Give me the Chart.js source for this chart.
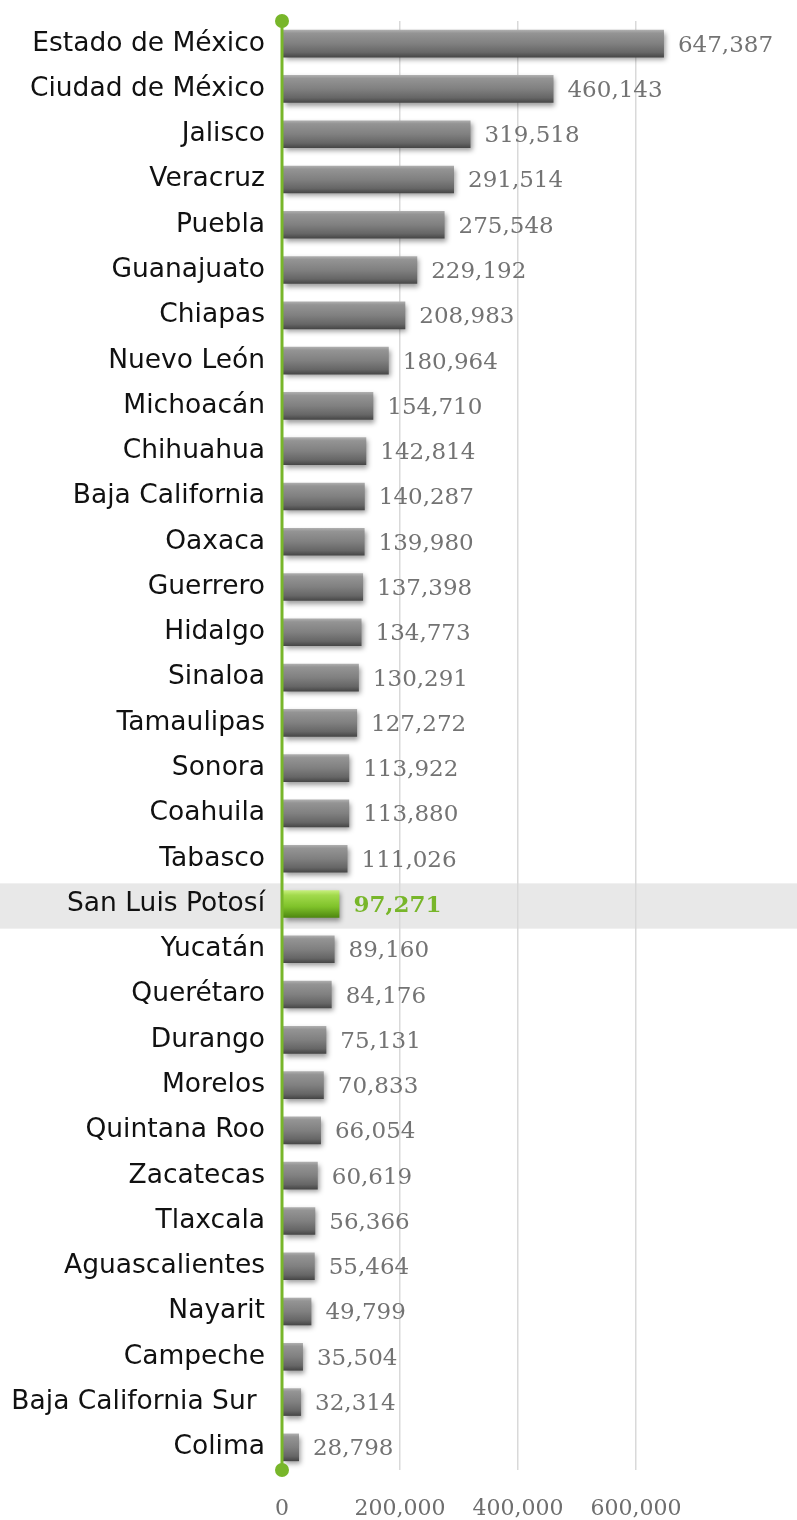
<!DOCTYPE html>
<html>
<head>
<meta charset="utf-8">
<script src="https://cdn.jsdelivr.net/npm/chart.js@4/dist/chart.umd.min.js"></script>
<style>
  html, body { margin: 0; padding: 0; background: #fff; }
  #wrap { width: 797px; height: 1520px; position: relative; }
</style>
</head>
<body>
<div id="wrap"><canvas id="statesChart"></canvas></div>
<script>
// Data
const states = [
  'Estado de México', 'Ciudad de México', 'Jalisco', 'Veracruz', 'Puebla',
  'Guanajuato', 'Chiapas', 'Nuevo León', 'Michoacán', 'Chihuahua',
  'Baja California', 'Oaxaca', 'Guerrero', 'Hidalgo', 'Sinaloa',
  'Tamaulipas', 'Sonora', 'Coahuila', 'Tabasco', 'San Luis Potosí',
  'Yucatán', 'Querétaro', 'Durango', 'Morelos', 'Quintana Roo',
  'Zacatecas', 'Tlaxcala', 'Aguascalientes', 'Nayarit', 'Campeche',
  'Baja California Sur ', 'Colima'
];
const values = [
  647387, 460143, 319518, 291514, 275548,
  229192, 208983, 180964, 154710, 142814,
  140287, 139980, 137398, 134773, 130291,
  127272, 113922, 113880, 111026, 97271,
  89160, 84176, 75131, 70833, 66054,
  60619, 56366, 55464, 49799, 35504,
  32314, 28798
];
const xTicks = [0, 200000, 400000, 600000];
const highlight = 'San Luis Potosí';

const GREEN = '#78b62a';
const BAR_PCT = 0.61;
const fmt = v => v.toLocaleString('en-US');

// Bevel-like vertical gradient for each bar
function barFill(context) {
  const chart = context.chart;
  const area = chart.chartArea;
  const isHi = states[context.dataIndex] === highlight;
  if (!area) return isHi ? GREEN : '#808080';
  const row = (area.bottom - area.top) / states.length;
  const h = row * BAR_PCT;
  const yc = chart.scales.y.getPixelForValue(context.dataIndex);
  const g = chart.ctx.createLinearGradient(0, yc - h / 2, 0, yc + h / 2);
  if (isHi) {
    g.addColorStop(0, '#c8f07e');
    g.addColorStop(0.18, '#a2da4c');
    g.addColorStop(0.6, '#7fc22a');
    g.addColorStop(1, '#4d8610');
  } else {
    g.addColorStop(0, '#b0b0b0');
    g.addColorStop(0.12, '#949494');
    g.addColorStop(0.5, '#808080');
    g.addColorStop(0.82, '#666666');
    g.addColorStop(1, '#454545');
  }
  return g;
}

// Grey band behind highlighted row
const bandPlugin = {
  id: 'band',
  beforeDraw(chart) {
    const { ctx, chartArea, scales } = chart;
    const i = states.indexOf(highlight);
    const row = (chartArea.bottom - chartArea.top) / states.length;
    const yc = scales.y.getPixelForValue(i) + 2;
    ctx.save();
    ctx.fillStyle = '#e8e8e8';
    ctx.fillRect(0, yc - row / 2, chart.width, row);
    ctx.restore();
  }
};

// Soft drop shadow under bars
const shadowPlugin = {
  id: 'barShadow',
  beforeDatasetDraw(chart) {
    const ctx = chart.ctx;
    ctx.save();
    ctx.shadowColor = 'rgba(0,0,0,0.4)';
    ctx.shadowBlur = 5;
    ctx.shadowOffsetX = 2;
    ctx.shadowOffsetY = 3;
  },
  afterDatasetDraw(chart) {
    chart.ctx.restore();
  }
};

// Green axis line, end dots and value labels
const overlayPlugin = {
  id: 'overlay',
  afterDatasetsDraw(chart) {
    const { ctx, chartArea, scales } = chart;
    const x0 = scales.x.getPixelForValue(0);
    ctx.save();
    ctx.strokeStyle = GREEN;
    ctx.lineWidth = 3;
    ctx.beginPath();
    ctx.moveTo(x0, chartArea.top);
    ctx.lineTo(x0, chartArea.bottom);
    ctx.stroke();
    ctx.fillStyle = GREEN;
    [chartArea.top, chartArea.bottom].forEach(y => {
      ctx.beginPath();
      ctx.arc(x0, y, 7, 0, Math.PI * 2);
      ctx.fill();
    });

    ctx.textBaseline = 'middle';
    ctx.textAlign = 'left';
    values.forEach((v, i) => {
      const isHi = states[i] === highlight;
      ctx.font = (isHi ? 'bold ' : '') + '23px "DejaVu Serif"';
      ctx.fillStyle = isHi ? GREEN : '#737373';
      ctx.fillText(fmt(v), scales.x.getPixelForValue(v) + 14, scales.y.getPixelForValue(i) + 2);
    });
    ctx.restore();
  }
};

new Chart(document.getElementById('statesChart'), {
  type: 'bar',
  data: {
    labels: states,
    datasets: [{
      data: values,
      backgroundColor: barFill,
      borderWidth: 0,
      barPercentage: BAR_PCT,
      categoryPercentage: 1
    }]
  },
  options: {
    indexAxis: 'y',
    responsive: true,
    maintainAspectRatio: false,
    animation: false,
    layout: { padding: { top: 21, right: 102, left: 0, bottom: 0 } },
    plugins: {
      legend: { display: false },
      tooltip: { enabled: false }
    },
    scales: {
      x: {
        min: 0,
        max: 700000,
        afterBuildTicks: scale => { scale.ticks = xTicks.map(v => ({ value: v })); },
        afterFit: scale => { scale.height = 50; scale.paddingLeft = 0; scale.paddingRight = 0; },
        border: { display: false },
        grid: {
          color: ctx => ctx.tick && ctx.tick.value === 0 ? 'rgba(0,0,0,0)' : '#d9d9d9',
          lineWidth: 1.5,
          drawTicks: false
        },
        ticks: {
          padding: 26,
          color: '#6e6e6e',
          font: { family: '"DejaVu Serif"', size: 22 },
          callback: v => fmt(v)
        }
      },
      y: {
        afterFit: scale => { scale.width = 282; scale.paddingTop = 0; scale.paddingBottom = 0; },
        border: { display: false },
        grid: { display: false, drawTicks: false },
        ticks: {
          padding: 17,
          color: '#111',
          autoSkip: false,
          font: { family: '"DejaVu Sans"', size: 26.5 }
        }
      }
    }
  },
  plugins: [bandPlugin, shadowPlugin, overlayPlugin]
});
</script>
</body>
</html>
